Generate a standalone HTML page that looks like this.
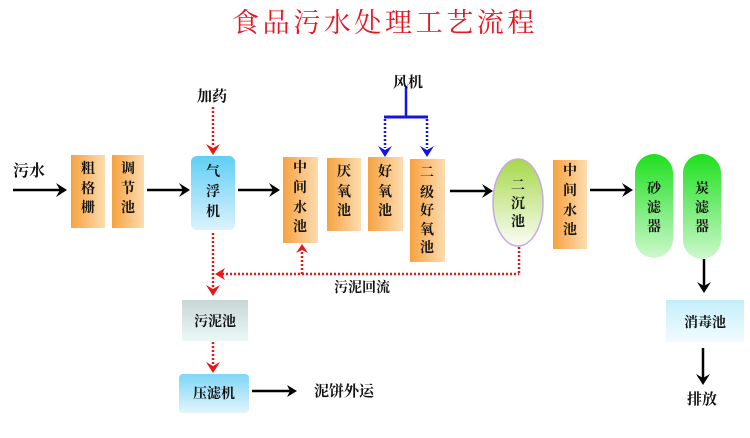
<!DOCTYPE html>
<html><head><meta charset="utf-8">
<style>
html,body{margin:0;padding:0;background:#fff;}
svg{display:block;}
text{font-family:"Liberation Serif","Noto Serif CJK SC",serif;font-weight:bold;fill:#111;}
</style></head>
<body>
<svg width="750" height="438" viewBox="0 0 750 438" xmlns="http://www.w3.org/2000/svg">
<defs>
<linearGradient id="org" x1="0" y1="0" x2="1" y2="0">
<stop offset="0" stop-color="#f6a240"/><stop offset="1" stop-color="#fddcb0"/>
</linearGradient>
<linearGradient id="blu" x1="0" y1="0" x2="0" y2="1">
<stop offset="0" stop-color="#5fcff6"/><stop offset="1" stop-color="#dcf2fc"/>
</linearGradient>
<linearGradient id="grn" x1="0" y1="0" x2="0" y2="1">
<stop offset="0" stop-color="#1ee01e"/><stop offset="1" stop-color="#cdf8cd"/>
</linearGradient>
<linearGradient id="ell" x1="0" y1="0" x2="0" y2="1">
<stop offset="0" stop-color="#a6d84a"/><stop offset="1" stop-color="#fbfdf6"/>
</linearGradient>
<linearGradient id="cyan" x1="0" y1="0" x2="0" y2="1">
<stop offset="0" stop-color="#c4eefa"/><stop offset="1" stop-color="#f2fcff"/>
</linearGradient>
<linearGradient id="gray" x1="0" y1="0" x2="0" y2="1">
<stop offset="0" stop-color="#c8d6d6"/><stop offset="1" stop-color="#eaf8f8"/>
</linearGradient>
<linearGradient id="blu2" x1="0" y1="0" x2="0" y2="1">
<stop offset="0" stop-color="#7fd6f7"/><stop offset="1" stop-color="#e2f5fc"/>
</linearGradient>
</defs>

<!-- Title -->
<text x="232" y="32" style="font-family:'Liberation Serif','Noto Serif CJK SC',serif;font-size:27px;letter-spacing:3.6px;fill:#e8141e;font-weight:normal">食品污水处理工艺流程</text>

<!-- labels -->
<text x="13" y="176" font-size="16">污水</text>
<text x="212" y="101" font-size="15" text-anchor="middle">加药</text>
<text x="408" y="87" font-size="15" text-anchor="middle">风机</text>
<text x="362" y="292" font-size="14" text-anchor="middle">污泥回流</text>
<text x="344" y="396" font-size="15" text-anchor="middle">泥饼外运</text>
<text x="702" y="404" font-size="15" text-anchor="middle">排放</text>

<!-- orange boxes -->
<rect x="71" y="155" width="34" height="73" fill="url(#org)"/>
<text x="88" font-size="14" text-anchor="middle"><tspan x="88" y="173">粗</tspan><tspan x="88" y="193">格</tspan><tspan x="88" y="212">栅</tspan></text>
<rect x="112" y="155" width="32" height="73" fill="url(#org)"/>
<text font-size="14" text-anchor="middle"><tspan x="128" y="173">调</tspan><tspan x="128" y="193">节</tspan><tspan x="128" y="212">池</tspan></text>

<rect x="283" y="157" width="35" height="86" fill="url(#org)"/>
<text font-size="14" text-anchor="middle"><tspan x="300" y="172">中</tspan><tspan x="300" y="192">间</tspan><tspan x="300" y="212">水</tspan><tspan x="300" y="231">池</tspan></text>

<rect x="327" y="158" width="34" height="73" fill="url(#org)"/>
<text font-size="14" text-anchor="middle"><tspan x="344" y="176">厌</tspan><tspan x="344" y="196">氧</tspan><tspan x="344" y="215">池</tspan></text>

<rect x="368" y="157" width="35" height="74" fill="url(#org)"/>
<text font-size="14" text-anchor="middle"><tspan x="385" y="176">好</tspan><tspan x="385" y="196">氧</tspan><tspan x="385" y="215">池</tspan></text>

<rect x="410" y="159" width="35" height="103" fill="url(#org)"/>
<text font-size="14" text-anchor="middle"><tspan x="427" y="177">二</tspan><tspan x="427" y="197">级</tspan><tspan x="427" y="215">好</tspan><tspan x="427" y="234">氧</tspan><tspan x="427" y="252">池</tspan></text>

<rect x="553" y="160" width="34" height="89" fill="url(#org)"/>
<text font-size="14" text-anchor="middle"><tspan x="570" y="175">中</tspan><tspan x="570" y="195">间</tspan><tspan x="570" y="215">水</tspan><tspan x="570" y="234">池</tspan></text>

<!-- 气浮机 -->
<rect x="191" y="156" width="44" height="74" rx="6" fill="url(#blu)"/>
<text font-size="14" text-anchor="middle"><tspan x="213" y="176">气</tspan><tspan x="213" y="196">浮</tspan><tspan x="213" y="216">机</tspan></text>

<!-- 二沉池 ellipse -->
<ellipse cx="518" cy="202.5" rx="25" ry="43.5" fill="url(#ell)" stroke="#c6a8e6" stroke-width="1.5"/>
<text font-size="14" text-anchor="middle"><tspan x="518" y="190">二</tspan><tspan x="518" y="208">沉</tspan><tspan x="518" y="226">池</tspan></text>

<!-- filters -->
<rect x="635" y="154" width="38" height="104" rx="19" fill="url(#grn)"/>
<text font-size="14" text-anchor="middle"><tspan x="654" y="193">砂</tspan><tspan x="654" y="212">滤</tspan><tspan x="654" y="231">器</tspan></text>
<rect x="683" y="154" width="38" height="105" rx="19" fill="url(#grn)"/>
<text font-size="14" text-anchor="middle"><tspan x="702" y="193">炭</tspan><tspan x="702" y="212">滤</tspan><tspan x="702" y="231">器</tspan></text>

<!-- 消毒池 -->
<rect x="666" y="300" width="78" height="42" fill="url(#cyan)"/>
<text x="705" y="327" font-size="14" text-anchor="middle">消毒池</text>

<!-- 污泥池 -->
<rect x="182" y="300" width="66" height="41" fill="url(#gray)"/>
<text x="215" y="326" font-size="14" text-anchor="middle">污泥池</text>

<!-- 压滤机 -->
<rect x="179" y="374" width="70" height="39" rx="4" fill="url(#blu2)"/>
<text x="214" y="398" font-size="14" text-anchor="middle">压滤机</text>

<!-- black arrows -->
<g stroke="#000" stroke-width="2.5" fill="none">
<line x1="13" y1="190" x2="60" y2="190"/>
<line x1="147" y1="190" x2="183" y2="190"/>
<line x1="238" y1="190" x2="273" y2="190"/>
<line x1="450" y1="191" x2="486" y2="191"/>
<line x1="590" y1="190" x2="626" y2="190"/>
<line x1="252" y1="391" x2="290" y2="391"/>
<line x1="704" y1="259" x2="704" y2="286"/>
<line x1="703" y1="348" x2="703" y2="378"/>
</g>
<g fill="#000">
<path d="M67 190 L56 183 L60 190 L56 197 Z"/>
<path d="M190 190 L179 183 L183 190 L179 197 Z"/>
<path d="M280 190 L269 183 L273 190 L269 197 Z"/>
<path d="M493 191 L482 184 L486 191 L482 198 Z"/>
<path d="M633 190 L622 183 L626 190 L622 197 Z"/>
<path d="M297 391 L287 385 L290 391 L287 397 Z"/>
<path d="M704 293 L697 282 L704 286 L711 282 Z"/>
<path d="M703 385 L696 374 L703 378 L710 374 Z"/>
</g>

<!-- blue 风机 -->
<g stroke="#1414e6" fill="none">
<line x1="406" y1="88" x2="406" y2="117" stroke-width="2.5"/>
<line x1="384" y1="117" x2="428" y2="117" stroke-width="3"/>
<line x1="385" y1="119" x2="385" y2="148" stroke-width="2.5" stroke-dasharray="2 2"/>
<line x1="427" y1="119" x2="427" y2="148" stroke-width="2.5" stroke-dasharray="2 2"/>
</g>
<g fill="#1414e6">
<path d="M385 157 L378 146 L385 150 L392 146 Z"/>
<path d="M427 157 L420 146 L427 150 L434 146 Z"/>
</g>

<!-- red dotted -->
<g stroke="#e81818" stroke-width="2.5" fill="none" stroke-dasharray="2 2">
<line x1="213" y1="107" x2="213" y2="146"/>
<line x1="213" y1="233" x2="213" y2="289"/>
<line x1="222" y1="274" x2="519" y2="274"/>
<line x1="519" y1="247" x2="519" y2="274"/>
<line x1="302" y1="274" x2="302" y2="251"/>
<line x1="213" y1="342" x2="213" y2="366"/>
</g>
<g fill="#e81818">
<path d="M213 155 L206 144 L213 148 L220 144 Z"/>
<path d="M213 296 L206 285 L213 289 L220 285 Z"/>
<path d="M213 373 L206 362 L213 366 L220 362 Z"/>
<path d="M215 274 L225 268 L222 274 L225 280 Z"/>
<path d="M302 244 L296 253 L302 250 L308 253 Z"/>
</g>
</svg>
</body></html>
